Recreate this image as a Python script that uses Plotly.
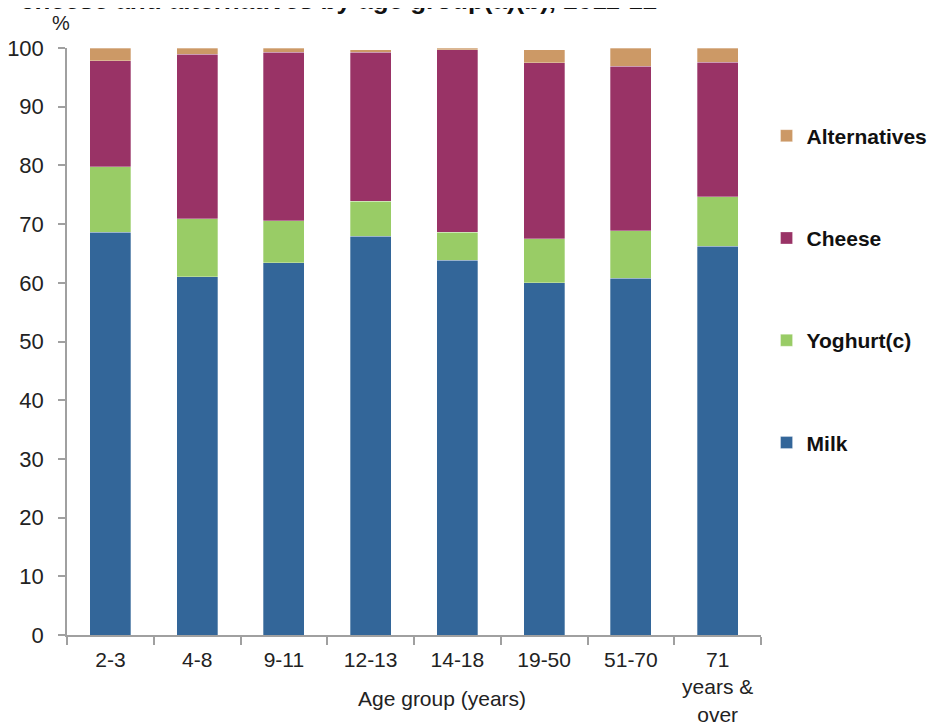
import plotly.graph_objects as go

categories = ["2-3", "4-8", "9-11", "12-13", "14-18", "19-50", "51-70", "71<br>years &<br>over"]
milk = [68.6, 61.0, 63.4, 67.9, 63.8, 60.0, 60.8, 66.2]
yoghurt = [11.2, 9.9, 7.2, 6.0, 4.8, 7.5, 8.1, 8.5]
cheese = [18.0, 28.0, 28.7, 25.4, 31.1, 30.0, 28.0, 22.9]
alternatives = [2.2, 1.1, 0.7, 0.4, 0.3, 2.2, 3.1, 2.4]

series = [
    ("Milk", milk, "#336699", 4),
    ("Yoghurt(c)", yoghurt, "#99CC66", 3),
    ("Cheese", cheese, "#993366", 2),
    ("Alternatives", alternatives, "#CC9966", 1),
]

FONT = "Liberation Sans, Arial, sans-serif"

fig = go.Figure()
for name, vals, color, rank in series:
    fig.add_trace(go.Bar(
        x=categories, y=vals, name=name, legendgroup=name, legendrank=rank,
        marker=dict(color=color, line=dict(width=0.5, color="rgba(255,255,255,0.6)")),
    ))

fig.update_layout(
    width=937, height=719,
    barmode="stack", bargap=0.53,
    paper_bgcolor="white", plot_bgcolor="white",
    margin=dict(l=59, r=179, t=40, b=92),
    font=dict(family=FONT, size=21, color="#222222"),
    showlegend=True,
    legend=dict(
        traceorder="grouped", tracegroupgap=72,
        x=1.008, xanchor="left", y=0.885, yanchor="top",
        font=dict(family=FONT, size=21, color="#111111", weight="bold"),
        itemwidth=30, bgcolor="rgba(0,0,0,0)",
    ),
    xaxis=dict(
        automargin=False,
        showline=True, linecolor="#A0A0A0", linewidth=1.5,
        ticks="outside", tickson="boundaries", ticklen=8, tickcolor="#A0A0A0", tickwidth=1.5,
        ticklabelstandoff=5,
        tickfont=dict(family=FONT, size=21, color="#222222"),
        showgrid=False,
    ),
    yaxis=dict(
        automargin=False,
        range=[0, 100], dtick=10, showline=True, linecolor="#A0A0A0", linewidth=1.5,
        ticks="outside", ticklen=7, tickcolor="#A0A0A0", tickwidth=1.5,
        ticklabelstandoff=10,
        tickfont=dict(family=FONT, size=22, color="#222222"),
        showgrid=False, zeroline=False,
    ),
    annotations=[
        dict(text="cheese and alternatives by age group(a)(b), 2011-12",
             xref="paper", yref="paper", x=-0.070, y=1.053, xanchor="left", yanchor="bottom",
             showarrow=False, font=dict(family=FONT, size=26, color="#111111", weight="bold")),
        dict(text="%", xref="paper", yref="paper", x=-0.009, y=1.043, xanchor="center", yanchor="middle",
             showarrow=False, font=dict(family=FONT, size=20, color="#222222")),
        dict(text="Age group (years)", xref="paper", yref="paper", x=0.541, y=-0.108,
             xanchor="center", yanchor="middle",
             showarrow=False, font=dict(family=FONT, size=21, color="#222222")),
    ],
)

fig.write_html("out.html")
